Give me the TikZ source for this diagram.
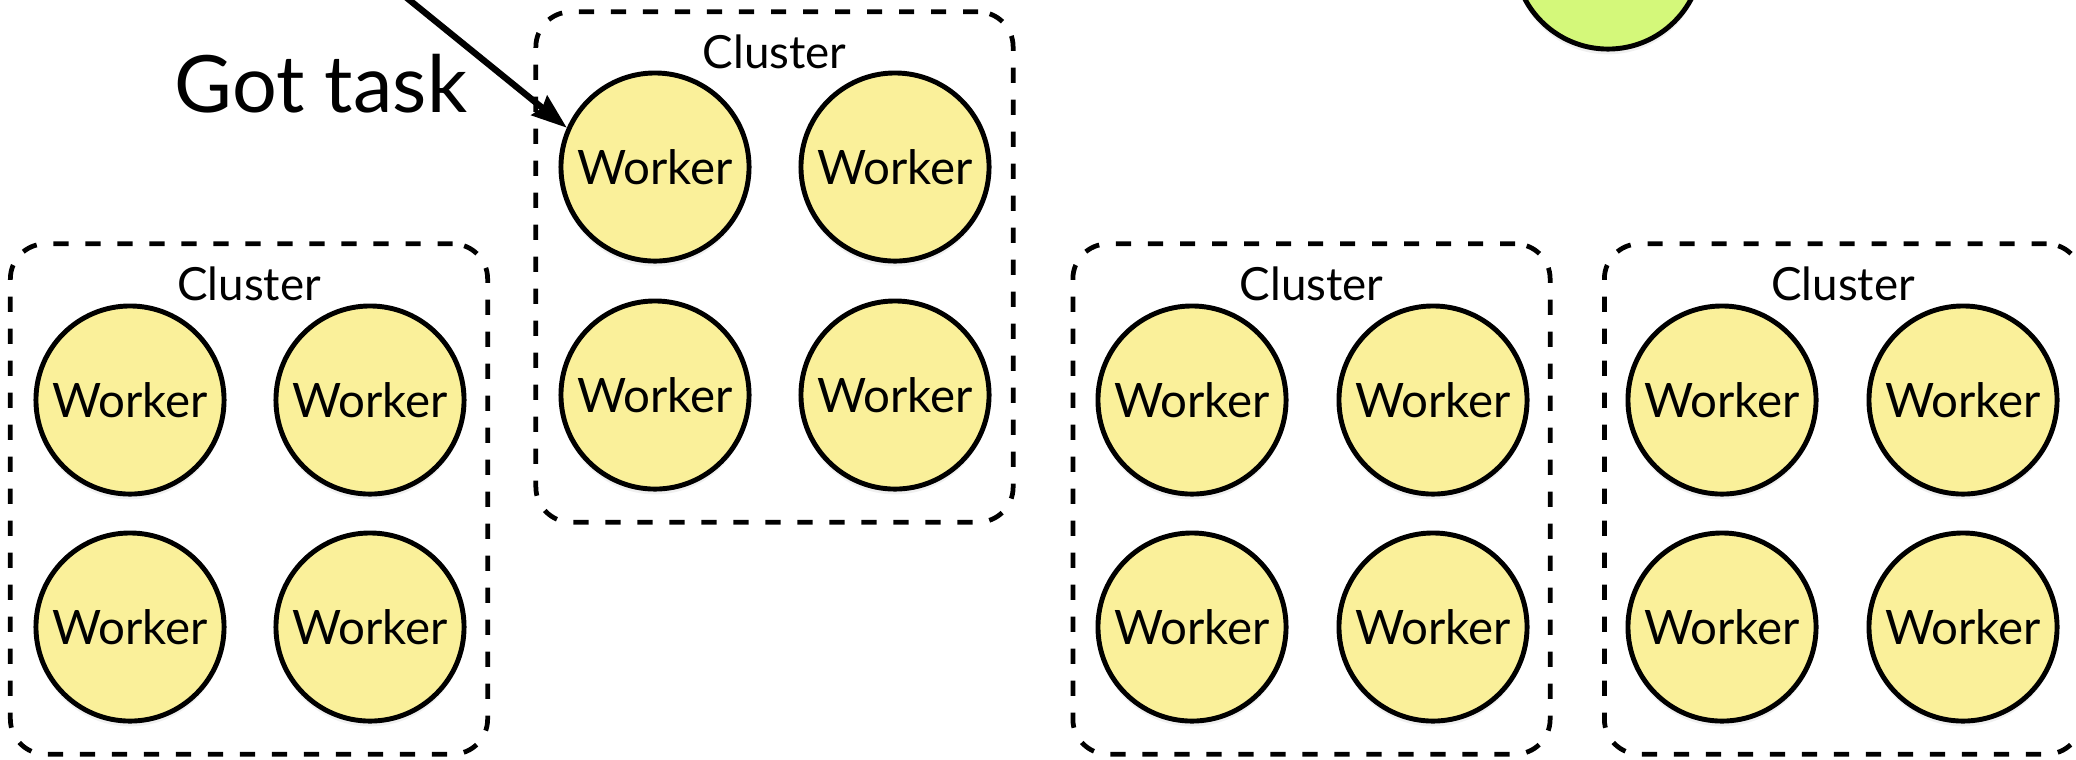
\documentclass[tikz,border=0pt]{standalone}
\usepackage{fontspec}
\setmainfont{Lato}
\usetikzlibrary{positioning,arrows.meta,shadows}
\definecolor{workeryellow}{RGB}{250,240,154}
\definecolor{mastergreen}{RGB}{212,248,122}

\begin{document}
\begin{tikzpicture}[x=0.01cm,y=-0.01cm]
   \tikzstyle{every node}=[font=\fontsize{13.5}{16}\selectfont]
   \tikzstyle{worker}=[circle, draw, line width=1.4pt, fill=workeryellow,
      minimum size=1.88cm, inner sep=0pt,
      drop shadow={shadow xshift=0pt, shadow yshift=-1.5pt, opacity=0.12}]
   \tikzstyle{cluster}=[rectangle, draw, line width=1.35pt,
      dash pattern=on 4.3pt off 4.8pt, rounded corners=0.35cm,
      minimum width=4.77cm, minimum height=5.1cm, inner sep=0pt]
   \tikzstyle{clustername}=[inner sep=0pt, font=\fontsize{13}{16}\selectfont]

   \useasboundingbox (0,0) rectangle (2076,759);

   % master, only its lower part is seen
   \node[worker, fill=mastergreen] (master) at (1608,-45) {};

   \node[cluster] (clusterA) at (249,499) {};
   \node[clustername, below=0.25cm of clusterA.north] (nameA) {Cluster};
   \node[worker] (workerA1) at (130,400) {Worker};
   \node[worker] (workerA2) at (370,400) {Worker};
   \node[worker] (workerA3) at (130,627) {Worker};
   \node[worker] (workerA4) at (370,627) {Worker};

   \node[cluster] (clusterB) at (774.5,267) {};
   \node[clustername, below=0.25cm of clusterB.north] (nameB) {Cluster};
   \node[worker] (workerB1) at (655,167) {Worker};
   \node[worker] (workerB2) at (895,167) {Worker};
   \node[worker] (workerB3) at (655,395) {Worker};
   \node[worker] (workerB4) at (895,395) {Worker};

   \node[cluster] (clusterC) at (1311.5,499) {};
   \node[clustername, below=0.25cm of clusterC.north] (nameC) {Cluster};
   \node[worker] (workerC1) at (1192,400) {Worker};
   \node[worker] (workerC2) at (1433,400) {Worker};
   \node[worker] (workerC3) at (1192,627) {Worker};
   \node[worker] (workerC4) at (1433,627) {Worker};

   \node[cluster] (clusterD) at (1843,499) {};
   \node[clustername, below=0.25cm of clusterD.north] (nameD) {Cluster};
   \node[worker] (workerD1) at (1722,400) {Worker};
   \node[worker] (workerD2) at (1963,400) {Worker};
   \node[worker] (workerD3) at (1722,627) {Worker};
   \node[worker] (workerD4) at (1963,627) {Worker};

   \node[font=\fontsize{22.5}{27}\selectfont, anchor=base] (gottask) at (321,112) {Got task};
   \coordinate (taskfrom) at (370,-32);
   \draw[line width=1.8pt, -{Stealth[length=10pt,width=7pt,inset=1pt]}] (taskfrom) -- (workerB1.156);
\end{tikzpicture}
\end{document}
